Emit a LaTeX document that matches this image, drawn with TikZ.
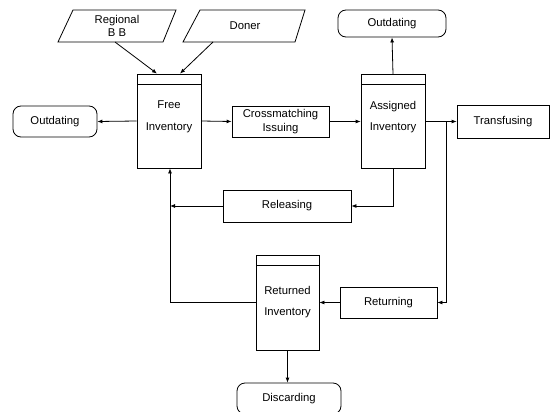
\documentclass[tikz,border=0pt]{standalone}
\usepackage{fontspec}
\setmainfont{Liberation Sans}
\usetikzlibrary{arrows.meta}
\begin{document}
\begin{tikzpicture}[x=1pt,y=-1pt,
  every node/.style={font=\fontsize{11.3}{13.5}\selectfont, inner sep=0pt},
  ln/.style={line width=0.8pt},
  arr/.style={ln,-{Latex[length=5pt,width=4pt]}},
  rbox/.style={draw,ln,rectangle},
  rnd/.style={draw,ln,rectangle,rounded corners=8pt},
  inv/.style={draw,ln,rectangle,minimum width=64pt,minimum height=94pt},
  txt/.style={align=center}
]
\useasboundingbox (0,0) rectangle (554,412);

% parallelograms
\node[txt] (rbb) at (117,26) {Regional\\B B};
\draw[ln] (58,42) -- (73,10) -- (176,10) -- (163,42) -- cycle;
\coordinate (rbbs) at (115,42);
\node[txt] (don) at (245,26) {Doner};
\draw[ln] (183,42) -- (200,10) -- (305,10) -- (295,42) -- cycle;
\coordinate (dons) at (213,42);

% inventories
\node[inv] (free) at (169,121) {};
\draw[ln] (137,84) -- (201,84);
\node[txt] at (169,117) {Free\\[8pt]Inventory};

\node[inv] (asg) at (393,121.5) {};
\draw[ln] (361,84) -- (425,84);
\node[txt] at (393,117) {Assigned\\[8pt]Inventory};

\node[draw,ln,rectangle,minimum width=63pt,minimum height=95pt] (ret) at (287.5,302.5) {};
\draw[ln] (256,265) -- (319,265);
\node[txt] at (287.5,302) {Returned\\[8pt]Inventory};

% other boxes
\node[rnd,minimum width=84pt,minimum height=31pt] (outl) at (55,121.5) {Outdating};
\node[rnd,minimum width=108pt,minimum height=27pt] (outt) at (392,23.5) {Outdating};
\node[rbox,txt,minimum width=97pt,minimum height=31pt] (cross) at (280.5,121.5) {Crossmatching\\Issuing};
\node[rbox,minimum width=92pt,minimum height=33pt] (trans) at (503,121.5) {Transfusing};
\node[rbox,minimum width=128pt,minimum height=32pt] (rel) at (287,206) {Releasing};
\node[rbox,minimum width=97pt,minimum height=31pt] (retn) at (388.5,302.5) {Returning};
\node[rnd,minimum width=104pt,minimum height=31pt] (disc) at (289,398.5) {Discarding};

% connectors
\draw[arr] (rbbs) -- (free.north -| 157,0);
\draw[arr] (dons) -- (free.north -| 180,0);
\draw[arr] (free.west) -- (outl.east);
\draw[arr] (free.east) -- (cross.west);
\draw[arr] (cross.east) -- (asg.west);
\draw[arr] (asg.north) -- (outt.south);
\draw[arr] (asg.east) -- (trans.west);
\coordinate (br) at (446,121.5);
\draw[arr] (br) |- (retn.east);
\draw[arr] (asg.south) |- (rel.east);
\coordinate (fx) at (170,206);
\draw[arr] (rel.west) -- (fx);
\coordinate (rc) at (170,302.5);
\draw[ln] (ret.west) -- (rc);
\draw[arr] (rc) -- (free.south -| rc);
\draw[arr] (retn.west) -- (ret.east);
\draw[arr] (ret.south) -- (ret.south |- disc.north);
\end{tikzpicture}
\end{document}
